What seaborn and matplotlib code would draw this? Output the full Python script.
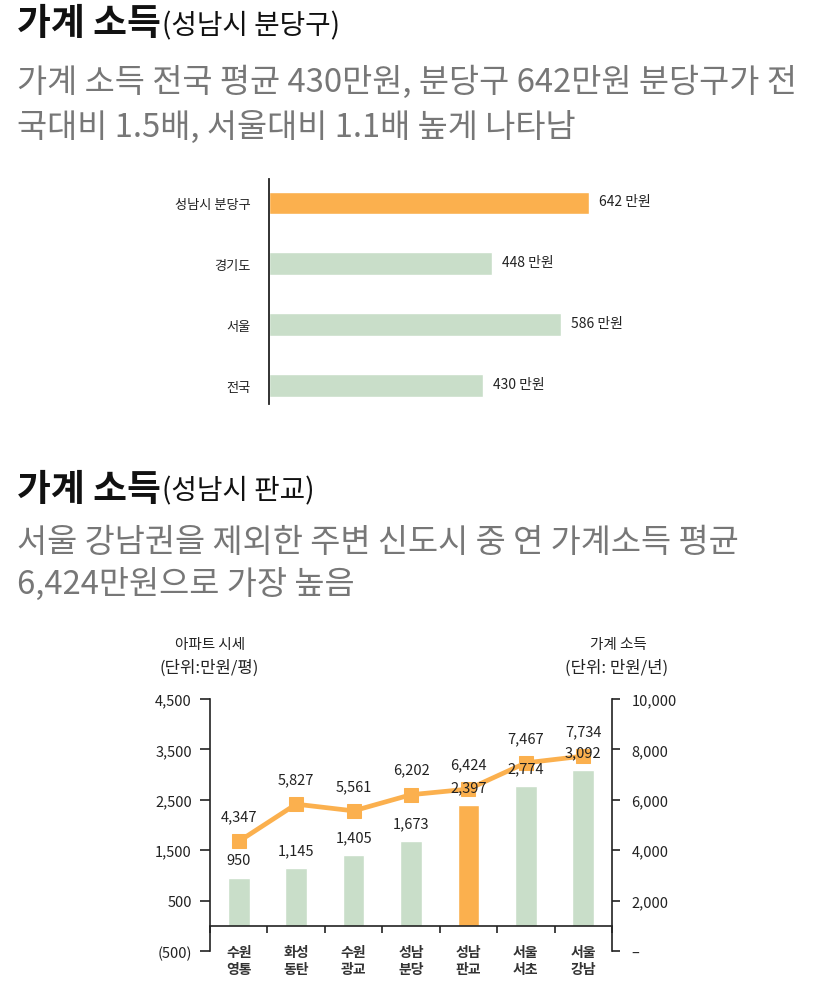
import matplotlib
matplotlib.use("Agg")
import matplotlib.pyplot as plt
import seaborn as sns
import pandas as pd
import numpy as np
from matplotlib.ticker import FixedLocator

# ---------------- data ----------------
top_regions = ["성남시 분당구", "경기도", "서울", "전국"]
top_income = [642, 448, 586, 430]

areas = ["수원\n영통", "화성\n동탄", "수원\n광교", "성남\n분당", "성남\n판교", "서울\n서초", "서울\n강남"]
apt_price = [950, 1145, 1405, 1673, 2397, 2774, 3092]
household_income = [4347, 5827, 5561, 6202, 6424, 7467, 7734]

left_ticks = [-500, 500, 1500, 2500, 3500, 4500]
left_ticklabels = ["(500)", "500", "1,500", "2,500", "3,500", "4,500"]
right_ticks = [0, 2000, 4000, 6000, 8000, 10000]
right_ticklabels = ["–", "2,000", "4,000", "6,000", "8,000", "10,000"]

ORANGE = "#FBB04E"
GREEN = "#C9DEC9"
GRAY = "#777777"
DARK = "#222222"

sns.set_theme(style="white")
FAM = ["Noto Sans CJK KR", "DejaVu Sans"]
plt.rcParams["font.family"] = FAM

W, H = 821, 987
fig = plt.figure(figsize=(W / 100, H / 100), dpi=100)


def fx(px):
    return px / W


def fy(py):
    return 1 - py / H


renderer = fig.canvas.get_renderer()


def title(y, main, sub):
    t = fig.text(fx(17), fy(y), main, fontsize=26.5, fontweight="bold",
                 color="#111111", va="center", ha="left")
    bb = t.get_window_extent(renderer=renderer)
    fig.text(bb.x1 / W + fx(1), fy(y + 1), sub, fontsize=20,
             color="#111111", va="center", ha="left")


title(25, "가계 소득", "(성남시 분당구)")
fig.text(fx(17), fy(82), "가계 소득 전국 평균 430만원, 분당구 642만원 분당구가 전",
         fontsize=23.6, color=GRAY, va="center", ha="left")
fig.text(fx(17), fy(127), "국대비 1.5배, 서울대비 1.1배 높게 나타남",
         fontsize=23.6, color=GRAY, va="center", ha="left")

title(490, "가계 소득", "(성남시 판교)")
fig.text(fx(17), fy(543), "서울 강남권을 제외한 주변 신도시 중 연 가계소득 평균",
         fontsize=23.6, color=GRAY, va="center", ha="left")
fig.text(fx(17), fy(584), "6,424만원으로 가장 높음",
         fontsize=23.6, color=GRAY, va="center", ha="left")

# ---------------- top chart ----------------
ax1 = fig.add_axes([fx(269), fy(405), fx(349), (405 - 180) / H])
df1 = pd.DataFrame({"region": top_regions, "income": top_income})
pal1 = {r: (ORANGE if i == 0 else GREEN) for i, r in enumerate(top_regions)}
sns.barplot(data=df1, x="income", y="region", hue="region", palette=pal1,
            legend=False, ax=ax1, width=0.37, orient="h", saturation=1)
ax1.set_xlim(0, 700)
ax1.set_ylim(3.3, -0.39)
for s in ["top", "right", "bottom"]:
    ax1.spines[s].set_visible(False)
ax1.spines["left"].set_color(DARK)
ax1.spines["left"].set_linewidth(1.3)
ax1.set_xticks([])
ax1.set_xlabel("")
ax1.set_ylabel("")
ax1.tick_params(axis="y", length=0, pad=13, labelsize=9.5, labelcolor=DARK)
for i, v in enumerate(top_income):
    ax1.annotate(f"{v} 만원", xy=(v, i), xytext=(7, 1), textcoords="offset points",
                 va="center", ha="left", fontsize=10, color=DARK)

# ---------------- bottom chart ----------------
ax2 = fig.add_axes([fx(210), fy(952), fx(402), (952 - 700) / H])
df2 = pd.DataFrame({"area": areas, "price": apt_price, "income": household_income})
pal2 = {a: (ORANGE if i == 4 else GREEN) for i, a in enumerate(areas)}
sns.barplot(data=df2, x="area", y="price", hue="area", palette=pal2,
            legend=False, ax=ax2, width=0.38, saturation=1)
ax2.set_xlim(-0.5, 6.5)
ax2.set_ylim(-500, 4500)
ax2.set_xlabel("")
ax2.set_ylabel("")
ax2.spines["top"].set_visible(False)
ax2.spines["right"].set_visible(False)
ax2.spines["bottom"].set_position(("data", 0))
for s in ["left", "bottom"]:
    ax2.spines[s].set_color(DARK)
    ax2.spines[s].set_linewidth(1.2)
ax2.set_yticks(left_ticks)
ax2.set_yticklabels(left_ticklabels)
ax2.tick_params(axis="y", direction="out", length=7, width=1.2, color=DARK,
                left=True, labelsize=10.5, labelcolor=DARK, pad=6)
ax2.set_xticks(range(len(areas)))
ax2.set_xticklabels(areas, fontweight="bold", linespacing=1.25)
ax2.xaxis.set_minor_locator(FixedLocator(np.arange(-0.5, 7, 1)))
ax2.tick_params(axis="x", which="major", length=0, pad=14, labelsize=10,
                labelcolor="#333333", bottom=True)
ax2.tick_params(axis="x", which="minor", length=5, width=1.2, color=DARK,
                direction="out", bottom=True)

ax3 = ax2.twinx()
sns.lineplot(data=df2, x="area", y="income", ax=ax3, color=ORANGE, linewidth=3.4,
             marker="s", markersize=10, markeredgecolor=ORANGE, sort=False)
ax3.set_ylim(0, 10000)
ax3.set_xlim(-0.5, 6.5)
ax3.set_ylabel("")
ax3.set_xlabel("")
for s in ["top", "left", "bottom"]:
    ax3.spines[s].set_visible(False)
ax3.spines["right"].set_color(DARK)
ax3.spines["right"].set_linewidth(1.2)
ax3.set_yticks(right_ticks)
ax3.set_yticklabels(right_ticklabels)
ax3.tick_params(axis="y", direction="out", length=6, width=1.2, color=DARK,
                right=True, labelsize=10.5, labelcolor=DARK, pad=8)

for i, v in enumerate(apt_price):
    ax3.annotate(f"{v:,}", xy=(i, v), xycoords=ax2.transData, xytext=(0, 13),
                 textcoords="offset points", ha="center", va="center",
                 fontsize=10.5, color=DARK, zorder=10)
for i, v in enumerate(household_income):
    ax3.annotate(f"{v:,}", xy=(i, v), xytext=(0, 18), textcoords="offset points",
                 ha="center", va="center", fontsize=10.5, color=DARK, zorder=10)

fig.text(fx(210), fy(645), "아파트 시세", fontsize=10.5, color=DARK, ha="center", va="center")
fig.text(fx(209), fy(668), "(단위:만원/평)", fontsize=12, color=DARK, ha="center", va="center")
fig.text(fx(618), fy(645), "가계 소득", fontsize=10.5, color=DARK, ha="center", va="center")
fig.text(fx(617), fy(668), "(단위: 만원/년)", fontsize=12, color=DARK, ha="center", va="center")

fig.savefig("out.png", dpi=100)
